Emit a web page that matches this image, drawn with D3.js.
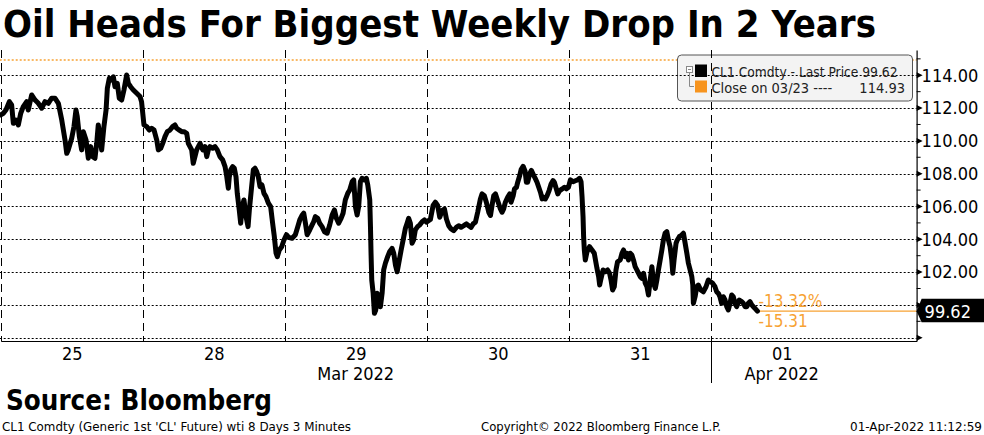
<!DOCTYPE html>
<html>
<head>
<meta charset="utf-8">
<script src="https://cdn.jsdelivr.net/npm/d3@7"></script>
<style>
  html, body { margin: 0; padding: 0; background: #fff; }
  svg { display: block; }
  text { font-family: "DejaVu Sans Condensed", "DejaVu Sans", sans-serif; font-stretch: condensed; }
</style>
</head>
<body>
<svg id="chart" width="984" height="435"></svg>
<script>
'use strict';

/* Trading sessions shown on the x axis */
const sessionLabels = ['25', '28', '29', '30', '31', '01'];
const monthSessions = [2, 5];
const monthNames = ['Mar 2022', 'Apr 2022'];

/* Y axis */
const yGrid = [98, 100, 102, 104, 106, 108, 110, 112, 114];
const yLabelled = [102, 104, 106, 108, 110, 112, 114];
const yMinor = [99, 101, 103, 105, 107, 109, 111, 113, 115];

/* Reference close on 03/23 */
const closeDate = '03/23';
const closeValue = 114.93;

/* CL1 3-minute prices, per session: [fraction of session, price] */
const prices25 = [
  [0, 111.58], [.018, 111.68], [.037, 111.88], [.061, 112.39], [.077, 112.19], [.089, 111.07],
  [.108, 111.27], [.124, 110.97], [.141, 111.68], [.159, 112.09], [.183, 112.39], [.194, 111.88],
  [.218, 112.80], [.242, 112.49], [.265, 112.29], [.289, 111.99], [.312, 112.39], [.335, 112.29],
  [.359, 112.60], [.382, 112.60], [.406, 112.29], [.430, 111.27], [.453, 110.05], [.465, 109.24],
  [.476, 109.45], [.500, 110.16], [.516, 110.87], [.530, 111.88], [.539, 111.48], [.554, 110.26],
  [.570, 109.45], [.582, 110.56], [.601, 110.05], [.617, 108.94], [.634, 109.65], [.648, 109.04],
  [.664, 108.94], [.676, 109.85], [.687, 110.97], [.699, 110.26], [.711, 109.45], [.727, 110.87],
  [.742, 111.88], [.751, 113.21], [.765, 113.82], [.782, 113.71], [.793, 113.91], [.805, 113.30],
  [.821, 113.51], [.835, 112.60], [.852, 112.49], [.868, 113.10], [.887, 114.02], [.899, 113.51],
  [.915, 113.30], [.934, 113.10], [.958, 112.90], [.981, 112.70], [.992, 112.39]
];
const prices28 = [
  [.009, 110.97], [.028, 110.87], [.046, 110.66], [.063, 110.77], [.080, 110.66], [.099, 110.05],
  [.110, 109.45], [.127, 109.55], [.141, 109.85], [.157, 110.26], [.173, 110.56], [.192, 110.66],
  [.211, 110.87], [.227, 110.97], [.239, 110.77], [.258, 110.66], [.275, 110.56], [.291, 110.56],
  [.310, 110.46], [.321, 109.85], [.333, 109.65], [.345, 109.45], [.356, 108.63], [.368, 109.04],
  [.380, 109.45], [.392, 109.65], [.404, 109.85], [.423, 109.45], [.439, 109.65], [.451, 109.04],
  [.462, 109.45], [.474, 109.65], [.493, 109.55], [.509, 109.65], [.525, 109.45], [.544, 109.04],
  [.563, 108.84], [.580, 108.43], [.592, 107.82], [.603, 107.11], [.610, 107.82], [.620, 108.23],
  [.634, 108.43], [.645, 108.33], [.657, 107.82], [.666, 106.80], [.680, 105.79], [.690, 104.98],
  [.701, 105.99], [.713, 106.40], [.728, 105.38], [.742, 104.77], [.751, 105.79], [.767, 107.21],
  [.779, 108.23], [.791, 108.33], [.803, 108.12], [.814, 107.82], [.826, 107.21], [.840, 107.31],
  [.854, 106.80], [.868, 106.60], [.885, 106.20], [.901, 105.99], [.915, 104.98], [.927, 104.16],
  [.939, 103.15], [.948, 102.94], [.962, 103.35], [.979, 103.55], [.995, 103.96]
];
const prices29 = [
  [.012, 104.28], [.028, 104.12], [.052, 104.06], [.075, 104.28], [.092, 104.77], [.106, 105.18],
  [.123, 105.48], [.134, 105.59], [.146, 104.98], [.158, 104.28], [.176, 104.57], [.193, 104.88],
  [.204, 105.07], [.216, 105.38], [.232, 105.28], [.246, 104.98], [.263, 104.77], [.280, 104.46],
  [.299, 104.37], [.317, 104.87], [.334, 105.48], [.350, 105.79], [.364, 105.28], [.380, 104.98],
  [.397, 105.28], [.411, 105.59], [.427, 106.40], [.444, 106.80], [.458, 107.01], [.475, 107.51],
  [.486, 107.62], [.498, 105.99], [.510, 105.48], [.521, 105.99], [.533, 107.51], [.545, 107.72],
  [.561, 107.62], [.575, 107.72], [.585, 107.31], [.599, 106.40], [.604, 104.77], [.608, 103.15],
  [.613, 101.52], [.623, 100.71], [.632, 99.49], [.641, 99.69], [.651, 100.71], [.662, 100.50],
  [.674, 99.89], [.686, 100.71], [.697, 102.13], [.709, 102.54], [.725, 102.94], [.739, 103.24],
  [.756, 103.45], [.768, 103.15], [.780, 102.43], [.792, 102.02], [.803, 102.54], [.820, 103.35],
  [.834, 103.96], [.850, 104.67], [.862, 104.98], [.873, 105.28], [.885, 104.98], [.897, 103.76],
  [.908, 103.96], [.920, 104.57], [.936, 104.77], [.951, 104.88], [.968, 105.07], [.984, 105.18],
  [.998, 105.05]
];
const prices30 = [
  [.026, 105.21], [.045, 106.06], [.061, 106.26], [.077, 106.06], [.092, 105.34], [.108, 105.75],
  [.125, 105.85], [.139, 105.24], [.155, 104.83], [.172, 104.63], [.190, 104.53], [.209, 104.73],
  [.225, 104.83], [.242, 104.73], [.261, 104.83], [.280, 104.94], [.296, 104.83], [.313, 104.73],
  [.327, 104.94], [.343, 105.04], [.359, 105.65], [.378, 106.46], [.390, 106.77], [.406, 106.66],
  [.420, 106.26], [.437, 105.65], [.449, 105.45], [.460, 106.06], [.472, 106.66], [.484, 106.77],
  [.496, 106.46], [.507, 106.16], [.519, 105.85], [.531, 105.65], [.542, 105.85], [.554, 106.26],
  [.570, 106.56], [.585, 106.77], [.594, 106.26], [.609, 106.66], [.618, 107.07], [.632, 107.17],
  [.641, 107.48], [.655, 107.89], [.665, 108.25], [.679, 108.45], [.693, 108.15], [.702, 107.48],
  [.711, 107.48], [.725, 107.99], [.737, 108.20], [.754, 107.89], [.766, 107.68], [.777, 107.48],
  [.789, 107.17], [.801, 106.87], [.813, 106.46], [.824, 106.56], [.836, 106.46], [.848, 106.66],
  [.862, 106.97], [.876, 107.37], [.890, 107.58], [.899, 107.48], [.913, 107.07], [.923, 106.77],
  [.937, 106.97], [.954, 107.07], [.970, 107.17], [.984, 107.07], [.998, 107.17]
];
const prices31 = [
  [.012, 107.62], [.031, 107.51], [.047, 107.57], [.063, 107.62], [.077, 107.72], [.087, 107.51],
  [.094, 106.60], [.101, 105.38], [.105, 104.16], [.110, 103.35], [.117, 102.74], [.129, 103.24],
  [.147, 103.55], [.164, 103.35], [.180, 103.15], [.199, 102.23], [.211, 101.72], [.218, 101.21],
  [.228, 101.62], [.242, 102.13], [.258, 102.02], [.274, 102.13], [.288, 101.93], [.298, 101.52],
  [.309, 100.91], [.321, 101.11], [.333, 102.13], [.344, 102.63], [.363, 102.74], [.375, 103.15],
  [.386, 103.35], [.398, 102.94], [.410, 103.15], [.421, 102.74], [.433, 103.15], [.445, 103.04],
  [.456, 102.74], [.468, 102.33], [.480, 102.13], [.492, 101.93], [.504, 101.72], [.515, 101.62],
  [.527, 101.93], [.539, 101.32], [.551, 101.11], [.562, 100.60], [.574, 101.52], [.586, 102.33],
  [.598, 101.32], [.610, 101.01], [.621, 101.52], [.632, 102.13], [.644, 102.74], [.656, 103.35],
  [.667, 103.96], [.679, 104.37], [.691, 104.46], [.702, 103.96], [.714, 103.55], [.726, 102.74],
  [.733, 101.93], [.742, 102.74], [.756, 103.76], [.765, 103.96], [.779, 104.16], [.796, 104.26],
  [.808, 104.37], [.820, 103.76], [.832, 103.15], [.843, 102.54], [.855, 102.13], [.867, 101.72],
  [.874, 101.21], [.878, 100.10], [.890, 100.50], [.902, 101.11], [.913, 101.21], [.930, 100.91],
  [.948, 100.80], [.967, 101.11], [.983, 101.52], [.999, 101.41]
];
const prices01 = [
  [.014, 101.32], [.030, 101.11], [.042, 100.80], [.054, 100.71], [.065, 100.50], [.077, 100.10],
  [.089, 100.50], [.101, 100.30], [.113, 99.89], [.124, 99.69], [.136, 100.10], [.148, 100.60],
  [.159, 100.50], [.171, 100.10], [.183, 99.89], [.201, 100.30], [.218, 100.20], [.230, 100.10],
  [.242, 99.89], [.254, 99.89], [.265, 100.10], [.277, 100.20], [.289, 100.00], [.300, 99.89],
  [.312, 99.79], [.329, 99.62]
];

const sessions = [prices25, prices28, prices29, prices30, prices31, prices01];
const series = sessions.flatMap((arr, i) => arr.map(([f, p]) => ({ t: i + f, p })));
const last = series[series.length - 1];
const change = last.p - closeValue;
const changePct = change / closeValue * 100;

/* Layout */
const W = 984, H = 435;
const plotL = 0.7, plotR = 916.6, plotT = 50, plotB = 341;
const ORANGE = '#f7a233';
const AXIS_FONT = '"DejaVu Sans Condensed", "DejaVu Sans", sans-serif';

const x = d3.scaleLinear().domain([0, 6.45]).range([plotL, plotR]);
const y = d3.scaleLinear().domain([97.8, 115.54]).range([plotB, plotT]);

const svg = d3.select('#chart');
svg.append('rect').attr('width', W).attr('height', H).attr('fill', '#fff');

/* Title */
svg.append('text').attr('x', 3).attr('y', 37.3)
    .attr('font-size', 37).attr('font-weight', 'bold').attr('fill', '#000')
    .attr('textLength', 873).attr('lengthAdjust', 'spacingAndGlyphs')
    .text('Oil Heads For Biggest Weekly Drop In 2 Years');

/* Close on 03/23 reference line */
svg.append('line')
    .attr('x1', plotL - 1).attr('x2', plotR).attr('y1', y(closeValue)).attr('y2', y(closeValue))
    .attr('stroke', ORANGE).attr('stroke-width', 1.6).attr('stroke-dasharray', '2,2');

/* Legend background (drawn below grid so grid shows through) */
const lgX = 677.5, lgY = 55, lgW = 235, lgH = 46;
svg.append('rect').attr('x', lgX).attr('y', lgY).attr('width', lgW).attr('height', lgH)
    .attr('rx', 4).attr('fill', '#f3f3f3').attr('stroke', '#555').attr('stroke-width', 1);

/* Horizontal grid */
svg.append('g').selectAll('line').data(yGrid).join('line')
    .attr('x1', plotL - 1).attr('x2', plotR).attr('y1', d => Math.round(y(d)) + 0.5).attr('y2', d => Math.round(y(d)) + 0.5)
    .attr('stroke', '#000').attr('stroke-width', 1).attr('stroke-dasharray', '2,2');

/* Session separators */
svg.append('g').selectAll('line').data(d3.range(sessionLabels.length)).join('line')
    .attr('x1', d => Math.round(x(d)) + 0.5).attr('x2', d => Math.round(x(d)) + 0.5)
    .attr('y1', plotT).attr('y2', plotB)
    .attr('stroke', '#000').attr('stroke-width', 1).attr('stroke-dasharray', '8,5');

/* Month separator below axis */
svg.append('g').selectAll('line').data(monthSessions.slice(1)).join('line')
    .attr('x1', d => Math.round(x(d)) + 0.5).attr('x2', d => Math.round(x(d)) + 0.5)
    .attr('y1', plotB).attr('y2', 383)
    .attr('stroke', '#000').attr('stroke-width', 1);

/* Last price horizontal line */
svg.append('line')
    .attr('x1', x(last.t)).attr('x2', plotR).attr('y1', y(last.p)).attr('y2', y(last.p))
    .attr('stroke', ORANGE).attr('stroke-width', 1.2);

/* Price line */
const line = d3.line().x(d => x(d.t)).y(d => y(d.p));
svg.append('path').datum(series).attr('d', line)
    .attr('fill', 'none').attr('stroke', '#000').attr('stroke-width', 5)
    .attr('stroke-linejoin', 'round').attr('stroke-linecap', 'round');

/* Change labels */
svg.append('text').attr('x', x(last.t) + 1).attr('y', y(last.p) - 4)
    .attr('font-size', 17).attr('fill', ORANGE)
    .text(`${changePct.toFixed(2)}%`);
svg.append('text').attr('x', x(last.t) + 1).attr('y', y(last.p) + 16)
    .attr('font-size', 17).attr('fill', ORANGE)
    .text(change.toFixed(2));

/* X axis */
const xAxis = d3.axisBottom(x)
    .tickValues(d3.range(sessionLabels.length).map(i => i + 0.5))
    .tickFormat((d, i) => sessionLabels[i])
    .tickSize(0).tickPadding(6);
const gx = svg.append('g').attr('transform', `translate(0,${plotB})`).call(xAxis);
gx.select('.domain').attr('stroke', '#000').attr('stroke-width', 1.2);
gx.selectAll('text').attr('font-size', 18).attr('fill', '#000').style('font-family', AXIS_FONT);

svg.append('g').selectAll('text').data(monthSessions).join('text')
    .attr('x', d => x(d + 0.5)).attr('y', 380).attr('text-anchor', 'middle')
    .attr('font-size', 18).attr('fill', '#000')
    .text((d, i) => monthNames[i]);

/* Y axis (right) */
const yAxis = d3.axisRight(y).tickValues(yLabelled).tickFormat(d3.format('.2f')).tickSize(0).tickPadding(5);
const gy = svg.append('g').attr('transform', `translate(${plotR},0)`).call(yAxis);
gy.select('.domain').attr('stroke', '#000').attr('stroke-width', 1.2);
gy.selectAll('text').attr('font-size', 18).attr('fill', '#000').style('font-family', AXIS_FONT);

svg.append('g').selectAll('path').data(yGrid).join('path')
    .attr('d', d => `M${plotR},${y(d) - 3}L${plotR + 6},${y(d)}L${plotR},${y(d) + 3}Z`)
    .attr('fill', '#000');
svg.append('g').selectAll('line').data(yMinor).join('line')
    .attr('x1', plotR).attr('x2', plotR + 4).attr('y1', d => y(d)).attr('y2', d => y(d))
    .attr('stroke', '#000').attr('stroke-width', 1);

/* Last price tag */
const ty = y(last.p);
svg.append('path')
    .attr('d', `M${plotR},${ty}L${plotR + 5},${ty - 12.5}L${W},${ty - 12.5}L${W},${ty + 11}L${plotR + 5},${ty + 11}Z`)
    .attr('fill', '#000');
svg.append('text').attr('x', plotR + 8).attr('y', ty + 6.5)
    .attr('font-size', 18).attr('fill', '#fff')
    .text(last.p.toFixed(2));

/* Legend content */
const lg = svg.append('g');
lg.append('rect').attr('x', 686.5).attr('y', 66.5).attr('width', 6).attr('height', 6)
    .attr('fill', '#fff').attr('stroke', '#888');
lg.append('line').attr('x1', 688).attr('x2', 691).attr('y1', 69.5).attr('y2', 69.5).attr('stroke', '#888');
lg.append('path').attr('d', 'M689.5,72.5V86.5H694').attr('fill', 'none').attr('stroke', '#888');
lg.append('rect').attr('x', 695).attr('y', 64.5).attr('width', 12).attr('height', 12.5).attr('fill', '#000');
lg.append('rect').attr('x', 695).attr('y', 80.5).attr('width', 12).attr('height', 12).attr('fill', '#f7941e');
lg.append('text').attr('x', 711.5).attr('y', 77).attr('font-size', 14.5).attr('fill', '#222')
    .attr('textLength', 186).attr('lengthAdjust', 'spacingAndGlyphs')
    .text(`CL1 Comdty  - Last Price ${last.p.toFixed(2)}`);
lg.append('text').attr('x', 711.5).attr('y', 92.5).attr('font-size', 14.5).attr('fill', '#222')
    .text(`Close on ${closeDate} ----`);
lg.append('text').attr('x', 905).attr('y', 92.5).attr('font-size', 14.5).attr('fill', '#222')
    .attr('text-anchor', 'end').text(closeValue.toFixed(2));

/* Source and footer */
svg.append('text').attr('x', 6).attr('y', 410)
    .attr('font-size', 28).attr('font-weight', 'bold').attr('fill', '#000')
    .attr('textLength', 266).attr('lengthAdjust', 'spacingAndGlyphs')
    .text('Source: Bloomberg');
svg.append('text').attr('x', 2).attr('y', 431).attr('font-size', 13).attr('fill', '#000')
    .attr('textLength', 349).attr('lengthAdjust', 'spacingAndGlyphs')
    .text("CL1 Comdty (Generic 1st 'CL' Future) wti 8 Days 3 Minutes");
svg.append('text').attr('x', 481).attr('y', 431).attr('font-size', 13).attr('fill', '#000')
    .attr('textLength', 240).attr('lengthAdjust', 'spacingAndGlyphs')
    .text('Copyright© 2022 Bloomberg Finance L.P.');
svg.append('text').attr('x', 982).attr('y', 431).attr('font-size', 13).attr('fill', '#000')
    .attr('text-anchor', 'end')
    .attr('textLength', 132).attr('lengthAdjust', 'spacingAndGlyphs')
    .text('01-Apr-2022 11:12:59');
</script>
</body>
</html>
